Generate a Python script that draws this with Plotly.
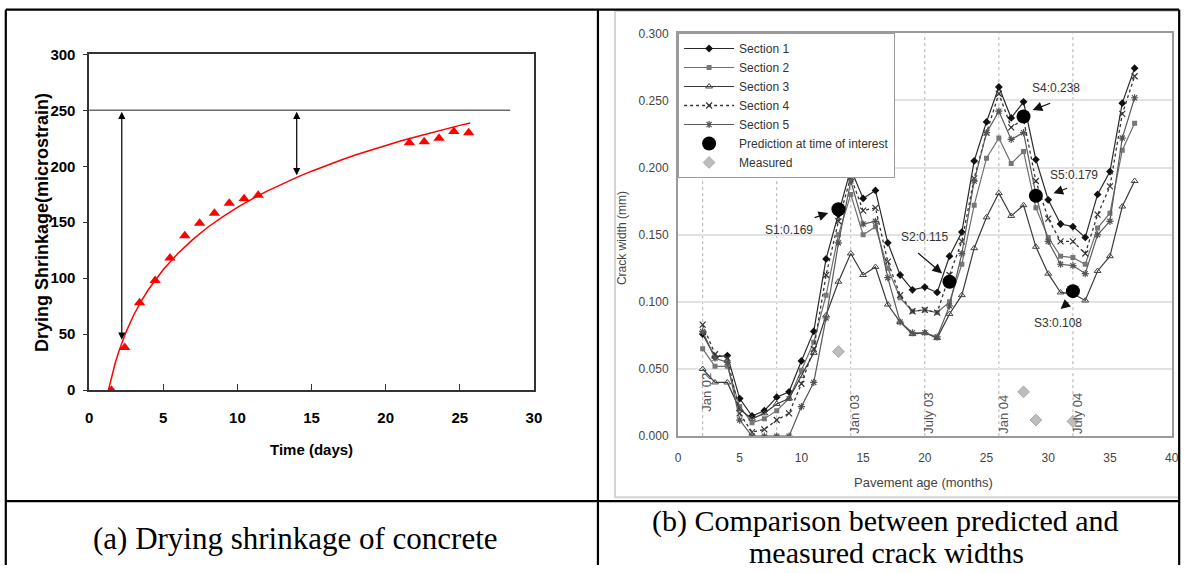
import plotly.graph_objects as go

W, H = 1188, 573
# measured mapping of figure pixels to the photographed picture (s = scale * f + offset)
SX, BX = 0.988, 4.2
SY, BY = 0.970, 9.0

# ---------------- Panel (a) data ----------------
shrink_t = [1.5, 2.4, 3.4, 4.45, 5.45, 6.45, 7.45, 8.45, 9.45, 10.45, 11.4,
            21.6, 22.6, 23.6, 24.6, 25.6]
shrink_meas = [0, 38, 78, 98, 118, 138, 149, 158, 167, 171, 174,
               221, 222, 225, 231, 230]
fit_t = [1.3, 1.5, 1.75, 2, 2.5, 3, 3.5, 4, 4.5, 5, 6, 7, 8, 9, 10, 11, 12, 13, 14,
         15, 16, 17, 18, 19, 20, 21, 22, 23, 24, 25, 25.7]
fit_y = [0, 11.4, 23.8, 34.5, 52.3, 66.9, 79.2, 89.9, 99.3, 107.8, 122.3, 134.7, 145.5,
         154.8, 163.2, 170.9, 177.8, 184.2, 190.1, 195.6, 200.8, 205.6, 210.2, 214.5, 218.6,
         222.5, 226.2, 229.8, 233.2, 236.5, 238.7]
ultimate_x = [0, 28.4]
ultimate_y = [250, 250]
arrows_a = [(2.2, 250, 45), (14.0, 250, 192)]  # x, top, bottom

# ---------------- Panel (b) data ----------------
months = [2, 3, 4, 5, 6, 7, 8, 9, 10, 11, 12, 13, 14, 15, 16, 17, 18, 19, 20, 21,
          22, 23, 24, 25, 26, 27, 28, 29, 30, 31, 32, 33, 34, 35, 36, 37]
sec1 = [0.076, 0.059, 0.060, 0.028, 0.015, 0.019, 0.029, 0.033, 0.056, 0.078, 0.132, 0.165,
        0.199, 0.177, 0.183, 0.144, 0.120, 0.109, 0.111, 0.107, 0.134, 0.152, 0.205, 0.234,
        0.260, 0.237, 0.249, 0.206, 0.176, 0.158, 0.156, 0.148, 0.180, 0.197, 0.248, 0.274]
sec2 = [0.065, 0.052, 0.052, 0.022, 0.010, 0.013, 0.019, 0.028, 0.049, 0.070, 0.105, 0.150,
        0.180, 0.150, 0.156, 0.125, 0.103, 0.093, 0.094, 0.092, 0.100, 0.128, 0.172, 0.207,
        0.222, 0.203, 0.212, 0.170, 0.148, 0.134, 0.133, 0.128, 0.155, 0.166, 0.213, 0.233]
sec3 = [0.050, 0.040, 0.040, 0.020, 0.013, 0.017, 0.024, 0.028, 0.045, 0.062, 0.090, 0.115,
        0.136, 0.120, 0.126, 0.098, 0.085, 0.076, 0.077, 0.073, 0.091, 0.105, 0.140, 0.163,
        0.181, 0.164, 0.172, 0.141, 0.121, 0.107, 0.106, 0.101, 0.123, 0.134, 0.171, 0.190]
sec4 = [0.083, 0.061, 0.058, 0.017, 0.003, 0.005, 0.012, 0.017, 0.039, 0.065, 0.120, 0.160,
        0.193, 0.168, 0.170, 0.130, 0.105, 0.093, 0.094, 0.092, 0.120, 0.145, 0.192, 0.226,
        0.255, 0.230, 0.236, 0.190, 0.162, 0.145, 0.145, 0.136, 0.165, 0.186, 0.240, 0.268]
sec5 = [0.078, 0.058, 0.055, 0.012, 0.000, 0.000, 0.000, 0.000, 0.022, 0.040, 0.088, 0.144,
        0.190, 0.158, 0.160, 0.118, 0.085, 0.077, 0.077, 0.074, 0.097, 0.136, 0.190, 0.226,
        0.242, 0.221, 0.226, 0.180, 0.145, 0.128, 0.127, 0.121, 0.150, 0.160, 0.222, 0.252]
pred_x = [13, 22, 32, 28, 29]
pred_y = [0.169, 0.115, 0.108, 0.238, 0.179]
pred_labels = ["S1:0.169", "S2:0.115", "S3:0.108", "S4:0.238", "S5:0.179"]
label_pos = [(9.02, 0.1535), (19.97, 0.148), (30.83, 0.084), (30.67, 0.259), (32.05, 0.1944)]
label_arrows = [((10.95, 0.1624), (12.17, 0.1661)), ((19.33, 0.1373), (21.4, 0.1212)),
                ((31.75, 0.1006), (31.0, 0.0946)), ((30.28, 0.2483), (28.74, 0.2429)),
                ((31.65, 0.185), (30.43, 0.1808))]
meas_x = [13, 28, 29, 32]
meas_y = [0.063, 0.033, 0.012, 0.011]
date_x = [2, 14, 20, 26, 32]
date_labels = ["Jan 02", "Jan 03", "July 03", "Jan 04", "July 04"]
date_label_y = [0.017, 0.0, 0.0, 0.0, 0.0]
dotted_x = [2, 8, 14, 20, 26, 32]


def px_x(s):
    return min(max(((s - BX) / SX) / W, 0.0007), 0.9993)


def px_y(s):
    return min(max(1 - ((s - BY) / SY) / H, 0.0), 0.9988)


fig = go.Figure()

# ---- panel a traces
fig.add_trace(go.Scatter(x=ultimate_x, y=ultimate_y, mode="lines",
                         line=dict(color="#6a6a6a", width=1.5), showlegend=False,
                         xaxis="x", yaxis="y", hoverinfo="skip"))
fig.add_trace(go.Scatter(x=fit_t, y=fit_y, mode="lines", line=dict(color="#ff0000", width=1.5),
                         showlegend=False, xaxis="x", yaxis="y"))
fig.add_trace(go.Scatter(x=shrink_t, y=shrink_meas, mode="markers",
                         marker=dict(symbol="triangle-up", size=10, color="#ff0000"),
                         showlegend=False, xaxis="x", yaxis="y"))

# ---- panel b traces
series = [
    ("Section 1", sec1, dict(color="#2a2a2a", width=1.2), dict(symbol="diamond", size=6, color="#111")),
    ("Section 2", sec2, dict(color="#6e6e6e", width=1.2), dict(symbol="square", size=5, color="#777")),
    ("Section 3", sec3, dict(color="#3a3a3a", width=1.2),
     dict(symbol="triangle-up-open", size=6, color="#444", line=dict(width=1))),
    ("Section 4", sec4, dict(color="#333", width=1.3, dash="dot"),
     dict(symbol="x-thin-open", size=6, color="#333", line=dict(width=1.2))),
    ("Section 5", sec5, dict(color="#5a5a5a", width=1.2),
     dict(symbol="asterisk-open", size=6, color="#555", line=dict(width=1.2))),
]
for name, vals, ln, mk in series:
    fig.add_trace(go.Scatter(x=months, y=vals, name=name, mode="lines+markers", line=ln,
                             marker=mk, xaxis="x2", yaxis="y2"))
fig.add_trace(go.Scatter(x=pred_x, y=pred_y, name="Prediction at time of interest", mode="markers",
                         marker=dict(symbol="circle", size=14, color="#000"), xaxis="x2", yaxis="y2"))
fig.add_trace(go.Scatter(x=meas_x, y=meas_y, name="Measured", mode="markers",
                         marker=dict(symbol="diamond", size=9, color="#bdbdbd",
                                     line=dict(color="#a8a8a8", width=1)),
                         xaxis="x2", yaxis="y2"))

ann = []
C = dict(xanchor="center", yanchor="middle", showarrow=False, xref="paper", yref="paper")
# panel a arrows
for xa, top, bot in arrows_a:
    ann.append(dict(x=xa, y=bot, ax=xa, ay=top, xref="x", yref="y", axref="x", ayref="y",
                    text="", showarrow=True, arrowhead=2, arrowside="end+start",
                    arrowsize=1.2, arrowwidth=1.2, arrowcolor="#000"))
# panel a axis titles
ann.append(dict(text="<b>Time (days)</b>", x=px_x(311), y=px_y(449),
                font=dict(family="Liberation Sans, Arial", size=15, color="#000"), **C))
ann.append(dict(text="<b>Drying Shrinkage(microstrain)</b>", x=px_x(42), y=px_y(222),
                textangle=-90, font=dict(family="Liberation Sans, Arial", size=18, color="#000"), **C))
# panel b titles
ann.append(dict(text="Pavement age (months)", x=px_x(922), y=px_y(482),
                font=dict(family="Liberation Sans, Arial", size=13, color="#444"), **C))
ann.append(dict(text="Crack width (mm)", x=px_x(621), y=px_y(238), textangle=-90,
                font=dict(family="Liberation Sans, Arial", size=12, color="#444"), **C))
# date labels
for dx, dl, dy in zip(date_x, date_labels, date_label_y):
    ann.append(dict(text=dl, x=dx + 0.35, y=dy, xref="x2", yref="y2", textangle=-90,
                    xanchor="center", yanchor="bottom", showarrow=False,
                    font=dict(family="Liberation Sans, Arial", size=13, color="#555")))
# prediction labels and arrows
for lbl, (lx, ly) in zip(pred_labels, label_pos):
    ann.append(dict(text=lbl, x=lx, y=ly, xref="x2", yref="y2", showarrow=False,
                    xanchor="center", yanchor="middle",
                    font=dict(family="Liberation Sans, Arial", size=12, color="#333")))
for (tx, ty), (hx, hy) in label_arrows:
    ann.append(dict(x=hx, y=hy, ax=tx, ay=ty, xref="x2", yref="y2", axref="x2", ayref="y2",
                    text="", showarrow=True, arrowhead=2, arrowsize=1.6, arrowwidth=1.2,
                    arrowcolor="#111"))
# captions
cap_font = dict(family="Liberation Serif, Times New Roman", size=30, color="#000")
ann.append(dict(text="(a) Drying shrinkage of concrete", x=px_x(295), y=px_y(538),
                font=dict(family="Liberation Serif, Times New Roman", size=31, color="#000"), **C))
ann.append(dict(text="(b) Comparison between predicted and", x=px_x(884), y=px_y(521),
                font=cap_font, **C))
ann.append(dict(text="measured crack widths", x=px_x(885), y=px_y(552),
                font=cap_font, **C))

shapes = []
# vertical dotted lines in panel b
for dx in dotted_x:
    shapes.append(dict(type="line", xref="x2", yref="y2", x0=dx, x1=dx, y0=0, y1=0.3,
                       line=dict(color="#b0b0b0", width=1, dash="dot"), layer="below"))
# chart-area frame of panel b
shapes.append(dict(type="rect", xref="paper", yref="paper", x0=px_x(614), x1=px_x(1184),
                   y0=px_y(497), y1=px_y(11), line=dict(color="#d4d4d4", width=2)))
# table lines
tl = dict(color="#000", width=2.2)
L, T, R = px_x(6), px_y(7), px_x(1187)
shapes += [
    dict(type="line", xref="paper", yref="paper", x0=L, x1=R, y0=T, y1=T, line=tl),
    dict(type="line", xref="paper", yref="paper", x0=L, x1=L, y0=0, y1=T, line=tl),
    dict(type="line", xref="paper", yref="paper", x0=px_x(597), x1=px_x(597), y0=0, y1=T, line=tl),
    dict(type="line", xref="paper", yref="paper", x0=R, x1=R, y0=0, y1=T, line=tl),
    dict(type="line", xref="paper", yref="paper", x0=L, x1=R, y0=px_y(501), y1=px_y(501), line=tl),
]

bold_tick = dict(family="Liberation Sans, Arial", size=15, color="#000", weight="bold")
gray_tick = dict(family="Liberation Sans, Arial", size=12, color="#444")
fig.update_layout(
    width=W, height=H, margin=dict(l=0, r=0, t=0, b=0),
    paper_bgcolor="white", plot_bgcolor="white",
    xaxis=dict(domain=[px_x(89.2), px_x(533.1)], range=[0, 30], dtick=5, showgrid=False,
               zeroline=False, showline=True, linecolor="#333", linewidth=1.5, mirror=True,
               ticks="inside", ticklen=6, tickcolor="#333", tickfont=bold_tick, anchor="y",
               ticklabelstandoff=13),
    yaxis=dict(domain=[px_y(390), px_y(54.3)], range=[0, 300], dtick=50, showgrid=False,
               zeroline=False, showline=True, linecolor="#333", linewidth=1.5, mirror=True,
               ticks="outside", ticklen=4, tickcolor="#333", tickfont=bold_tick, anchor="x",
               ticklabelstandoff=5),
    xaxis2=dict(domain=[px_x(676.9), px_x(1169.6)], range=[0, 40], dtick=5, showgrid=False,
                zeroline=False, showline=True, linecolor="#9a9a9a", linewidth=2, mirror=True,
                ticks="", tickfont=gray_tick, anchor="y2", ticklabelstandoff=9),
    yaxis2=dict(domain=[px_y(436), px_y(33.3)], range=[0, 0.3], dtick=0.05, tickformat=".3f",
                showgrid=True, gridcolor="#e2e2e2", gridwidth=2, zeroline=False, showline=True,
                linecolor="#9a9a9a", linewidth=2, mirror=True, ticks="",
                tickfont=gray_tick, anchor="x2", ticklabelstandoff=5),
    legend=dict(x=px_x(677), y=px_y(33), xanchor="left", yanchor="top", bgcolor="white",
                bordercolor="#9a9a9a", borderwidth=1,
                font=dict(family="Liberation Sans, Arial", size=12, color="#333"),
                tracegroupgap=0, itemwidth=50),
    annotations=ann, shapes=shapes,
)

fig.write_html("out.html")
